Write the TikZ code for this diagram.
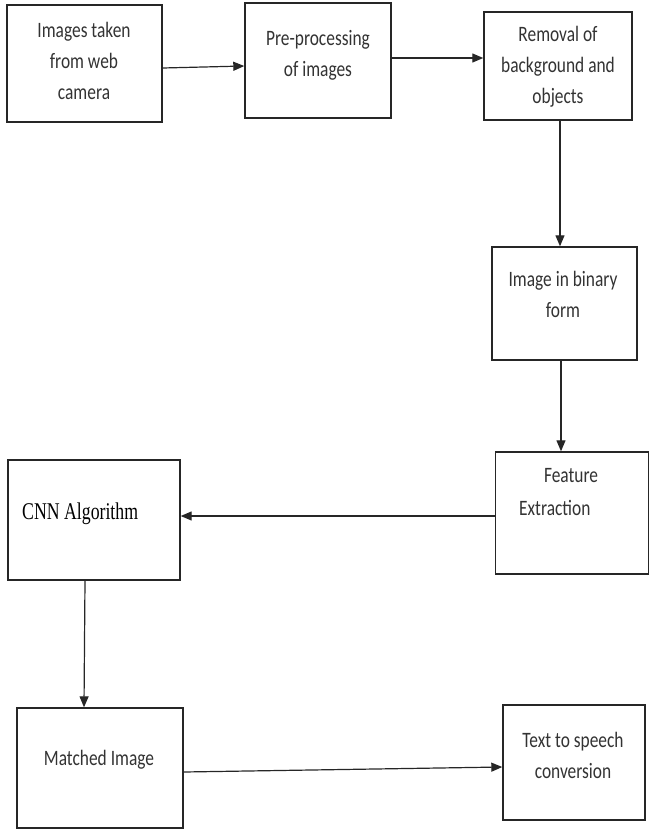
\documentclass[tikz,border=0pt]{standalone}
\usepackage{fontspec}
\setmainfont{Carlito}[FakeStretch=0.79]
\newfontfamily\timesfont{Liberation Serif}[FakeStretch=0.74]
\usetikzlibrary{arrows.meta}
\tikzset{
  box/.style={draw=black!85, line width=1.4pt, rectangle, inner sep=0pt},
  lbl/.style={inner sep=0pt, text=black!80, font=\fontsize{22}{31}\selectfont, align=center},
  arr/.style={draw=black!85, line width=1.2pt, -{Triangle[length=11pt,width=9pt]}},
}
\begin{document}
\begin{tikzpicture}[x=1pt,y=-1pt]
\useasboundingbox (0,0) rectangle (650,830);
\node[box, minimum width=155pt, minimum height=117pt] (b1) at (84.5,63.5) {};
\node[box, minimum width=146pt, minimum height=115pt] (b2) at (318,60.5) {};
\node[box, minimum width=148pt, minimum height=108pt] (b3) at (558,66) {};
\node[box, minimum width=145pt, minimum height=113pt] (b4) at (564.5,303.5) {};
\node[box, minimum width=153pt, minimum height=122pt] (b5) at (572,513) {};
\node[box, minimum width=172pt, minimum height=120pt] (b6) at (94,520) {};
\node[box, minimum width=166pt, minimum height=120pt] (b7) at (100,768) {};
\node[box, minimum width=142pt, minimum height=115pt] (b8) at (574,762.5) {};

\node[lbl] (t1) at (84,61) {Images taken\\from web\\camera};
\node[lbl] (t2) at (318,55) {Pre-processing\\of images};
\node[lbl] (t3) at (558,67) {Removal of\\background and\\objects};
\node[lbl] (t4) at (563,294) {Image in binary\\form};
\node[lbl, anchor=base] (t5a) at (571,482) {Feature};
\node[lbl, anchor=base west] (t5b) at (519,515) {Extraction};
\node[inner sep=0pt, text=black, font=\timesfont\fontsize{24}{28}\selectfont, anchor=base west] (t6) at (22,519) {CNN Algorithm};
\node[lbl] (t7) at (99,760) {Matched Image};
\node[lbl] (t8) at (573,755) {Text to speech\\conversion};

\draw[arr] ([yshift=-4.5pt]b1.east) -- ([yshift=-5.5pt]b2.west);
\draw[arr] ([yshift=2.5pt]b2.east) -- ([yshift=8pt]b3.west);
\draw[arr] ([xshift=2pt]b3.south) -- ([xshift=-4.5pt]b4.north);
\draw[arr] ([xshift=-3.5pt]b4.south) -- ([xshift=-11pt]b5.north);
\draw[arr] ([yshift=-3pt]b5.west) -- ([yshift=4pt]b6.east);
\draw[arr] ([xshift=-9pt]b6.south) -- ([xshift=-16pt]b7.north);
\draw[arr] ([yshift=-4pt]b7.east) -- ([yshift=-4.5pt]b8.west);
\end{tikzpicture}
\end{document}
